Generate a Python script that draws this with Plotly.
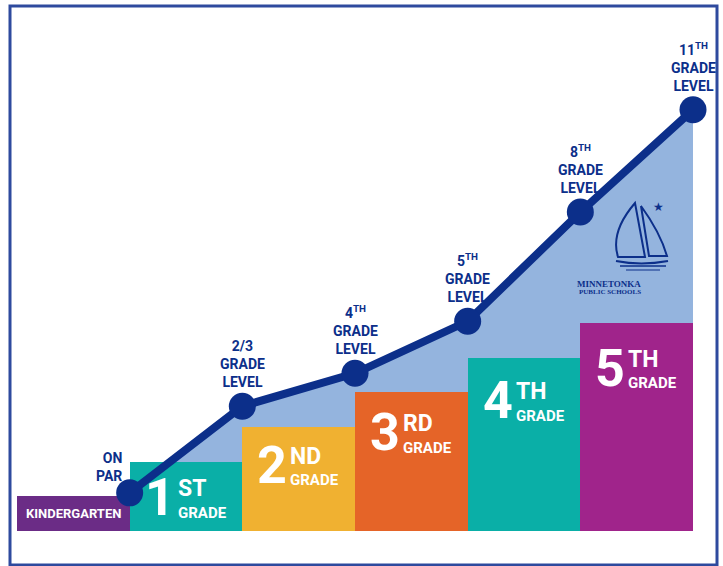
import plotly.graph_objects as go

# ---------------- data ----------------
grades = ["KINDERGARTEN", "1", "2", "3", "4", "5"]
grade_suffix = ["", "ST", "ND", "RD", "TH", "TH"]
bar_levels = [1, 2, 3, 4, 5, 6]
bar_colors = ["#6B2C86", "#0AAFA7", "#F0B131", "#E56428", "#0AAFA7", "#A0248B"]

reading_levels = [1.1, 3.6, 4.55, 6.05, 9.2, 12.15]
reading_labels = ["ON<br>PAR", "2/3<br>GRADE<br>LEVEL", "4<sup>TH</sup><br>GRADE<br>LEVEL",
                  "5<sup>TH</sup><br>GRADE<br>LEVEL", "8<sup>TH</sup><br>GRADE<br>LEVEL",
                  "11<sup>TH</sup><br>GRADE<br>LEVEL"]

NAVY = "#0C2F8A"
FILL = "#94B4DE"
FONT = "Roboto, Liberation Sans, Arial, sans-serif"

W, H = 723, 566
xs_bar = list(range(len(bar_levels)))
xs_line = [i + 0.5 for i in range(len(reading_levels))]

fig = go.Figure()

# area under the reading line (behind bars)
fig.add_trace(go.Scatter(x=xs_line, y=reading_levels, mode="none", fill="tozeroy",
                         fillcolor=FILL, zorder=-1, hoverinfo="skip"))

fig.add_trace(go.Bar(x=xs_bar, y=bar_levels, width=1, marker=dict(color=bar_colors, line=dict(width=0)),
                     zorder=0, hoverinfo="skip"))

fig.add_trace(go.Scatter(x=xs_line, y=reading_levels, mode="lines+markers",
                         line=dict(color=NAVY, width=8),
                         marker=dict(color=NAVY, size=27, line=dict(width=0)),
                         zorder=1, hoverinfo="skip"))

ann = []
# reading level labels
for i, (x, y, t) in enumerate(zip(xs_line, reading_levels, reading_labels)):
    if i == 0:
        ann.append(dict(x=x, y=y, text=t, showarrow=False, xanchor="right", yanchor="bottom",
                        xshift=-6, yshift=7, align="right",
                        font=dict(family=FONT, size=14, color=NAVY, weight="bold")))
    else:
        ann.append(dict(x=x, y=y, text=t, showarrow=False, xanchor="center", yanchor="bottom",
                        yshift=14, align="center",
                        font=dict(family=FONT, size=14, color=NAVY, weight="bold")))

# grade labels on bars
for i, (g, s, lv) in enumerate(zip(grades, grade_suffix, bar_levels)):
    L = i - 0.5
    if i == 0:
        ann.append(dict(x=i, y=lv, text=g, showarrow=False, xanchor="center", yanchor="middle",
                        yshift=-17, font=dict(family=FONT, size=13, color="white", weight="bold")))
        continue
    dy = 2.3 * (i - 1)
    ann.append(dict(x=L, y=lv, text=g, showarrow=False, xanchor="right", yanchor="middle",
                    xshift=47, yshift=-(36 + dy),
                    font=dict(family=FONT, size=52, color="white", weight="bold")))
    ann.append(dict(x=L, y=lv, text=s, showarrow=False, xanchor="left", yanchor="middle",
                    xshift=46, yshift=-(27 + dy),
                    font=dict(family=FONT, size=23, color="white", weight="bold")))
    ann.append(dict(x=L, y=lv, text="GRADE", showarrow=False, xanchor="left", yanchor="middle",
                    xshift=46, yshift=-(51 + dy),
                    font=dict(family=FONT, size=15, color="white", weight="bold")))


def P(x, y):
    return f"{x / W:.5f},{1 - y / H:.5f}"


shapes = [
    dict(type="rect", xref="paper", yref="paper", x0=10 / W, x1=717 / W, y0=1 - 565 / H, y1=1 - 6 / H,
         line=dict(color="#2E4A9E", width=3), fillcolor="rgba(0,0,0,0)", layer="above"),
    # sailboat logo
    dict(type="path", xref="paper", yref="paper",
         path=f"M{P(635,203)} Q{P(610,232)} {P(618,257)} L{P(645,257)} Z",
         line=dict(color=NAVY, width=2)),
    dict(type="path", xref="paper", yref="paper",
         path=f"M{P(641,206)} Q{P(660,232)} {P(667,256)} L{P(649,256)} Z",
         line=dict(color=NAVY, width=2)),
    dict(type="path", xref="paper", yref="paper",
         path=f"M{P(616,261)} Q{P(641,266)} {P(668,261)}", line=dict(color=NAVY, width=2)),
    dict(type="path", xref="paper", yref="paper",
         path=f"M{P(620,266)} L{P(666,266)}", line=dict(color=NAVY, width=1.5)),
    dict(type="path", xref="paper", yref="paper",
         path=f"M{P(626,270)} L{P(660,270)}", line=dict(color=NAVY, width=1.2)),
]

ann.append(dict(xref="paper", yref="paper", x=666 / W, y=1 - 207 / H, text="★", showarrow=False,
                font=dict(size=12, color=NAVY)))
ann.append(dict(xref="paper", yref="paper", x=643 / W, y=1 - 284 / H, text="MINNETONKA",
                showarrow=False,
                font=dict(family="Liberation Serif, DejaVu Serif, serif", size=9, color=NAVY, weight="bold")))
ann.append(dict(xref="paper", yref="paper", x=643 / W, y=1 - 292 / H, text="PUBLIC SCHOOLS",
                showarrow=False,
                font=dict(family="Liberation Serif, DejaVu Serif, serif", size=7, color=NAVY, weight="bold")))

px_x = (693 - 17) / 6
px_y = (531 - 323) / 6
fig.update_layout(
    width=W, height=H, margin=dict(l=0, r=0, t=0, b=0),
    paper_bgcolor="white", plot_bgcolor="white", showlegend=False,
    xaxis=dict(range=[-0.5 - 17 / px_x, 5.5 + (W - 693) / px_x], visible=False, fixedrange=True),
    yaxis=dict(range=[-(H - 531) / px_y, 531 / px_y], visible=False, fixedrange=True),
    annotations=ann, shapes=shapes, bargap=0,
)

fig.write_html("out.html", config={"displayModeBar": False},
               post_script="document.body.style.margin='0';document.body.style.overflow='hidden';")
